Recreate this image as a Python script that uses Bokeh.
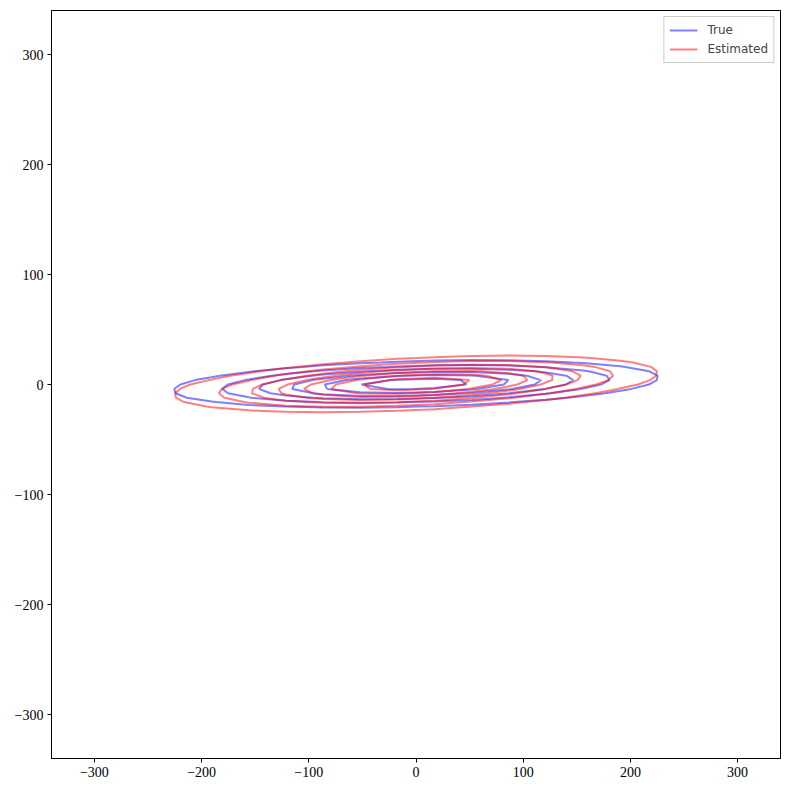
import numpy as np
from bokeh.plotting import figure
from bokeh.models import Range1d, FixedTicker, Legend, LegendItem
from bokeh.embed import file_html
from bokeh.resources import INLINE

# --- data ---
series_names = ["True", "Estimated"]
series_colors = ["blue", "red"]
true_mean = [0.0, 0.5]
true_cov = [[13497.0, 351.0], [351.0, 121.3]]
true_levels = [1.95e-5, 3.90e-5, 5.85e-5, 7.80e-5, 9.75e-5, 1.170e-4]
est_mean = [0.0, 0.5]
est_cov = [[12313.0, 554.0], [554.0, 159.2]]
est_levels = [1.584e-5, 3.168e-5, 4.752e-5, 6.336e-5, 7.920e-5, 9.504e-5, 1.1088e-4]
grid_x_limits = [-329.33, 329.33]
grid_x_count = 20
grid_y_limits = [-60.0, 60.0]
grid_y_count = 31
tick_values = [-300, -200, -100, 0, 100, 200, 300]
axis_limits = [-340, 340]

gx = np.linspace(grid_x_limits[0], grid_x_limits[1], grid_x_count)
gy = np.linspace(grid_y_limits[0], grid_y_limits[1], grid_y_count)
X, Y = np.meshgrid(gx, gy)


def density(mean, cov):
    c = np.array(cov)
    inv = np.linalg.inv(c)
    dx = X - mean[0]
    dy = Y - mean[1]
    q = inv[0, 0] * dx * dx + 2 * inv[0, 1] * dx * dy + inv[1, 1] * dy * dy
    return np.exp(-0.5 * q) / (2 * np.pi * np.sqrt(np.linalg.det(c)))


p = figure(width=782, height=782, output_backend="svg", toolbar_location=None,
           x_range=Range1d(*axis_limits), y_range=Range1d(*axis_limits),
           min_border_left=51, min_border_right=2, min_border_top=10, min_border_bottom=24)
p.grid.visible = False
p.outline_line_color = "black"
p.outline_line_width = 1

params = [(true_mean, true_cov, true_levels), (est_mean, est_cov, est_levels)]
items = []
for (m, c, lv), name, col in zip(params, series_names, series_colors):
    z = density(m, c)
    cr = p.contour(gx, gy, z, lv, line_color=col, line_alpha=0.5, line_width=2)
    items.append(LegendItem(label=name, renderers=[cr.line_renderer]))

labels = {v: str(v).replace("-", "\u2212") for v in tick_values}
for ax in (p.xaxis[0], p.yaxis[0]):
    ax.ticker = FixedTicker(ticks=tick_values)
    ax.major_label_overrides = labels
    ax.minor_tick_line_color = None
    ax.major_tick_in = 0
    ax.major_tick_out = 4
    ax.major_label_standoff = 4
    ax.major_label_text_font = "Liberation Serif"
    ax.major_label_text_font_size = "14px"
    ax.major_label_text_color = "black"
    ax.axis_line_color = "black"
    ax.major_tick_line_color = "black"

legend = Legend(items=items, location="top_right", margin=6, padding=5,
                label_text_font="DejaVu Sans", label_text_font_size="12px",
                glyph_width=28, glyph_height=16, label_height=16, spacing=3,
                label_standoff=10, border_line_color="#cccccc", border_line_alpha=1,
                background_fill_alpha=0.8)
p.add_layout(legend)

open("out.html", "w").write(file_html(p, INLINE))
